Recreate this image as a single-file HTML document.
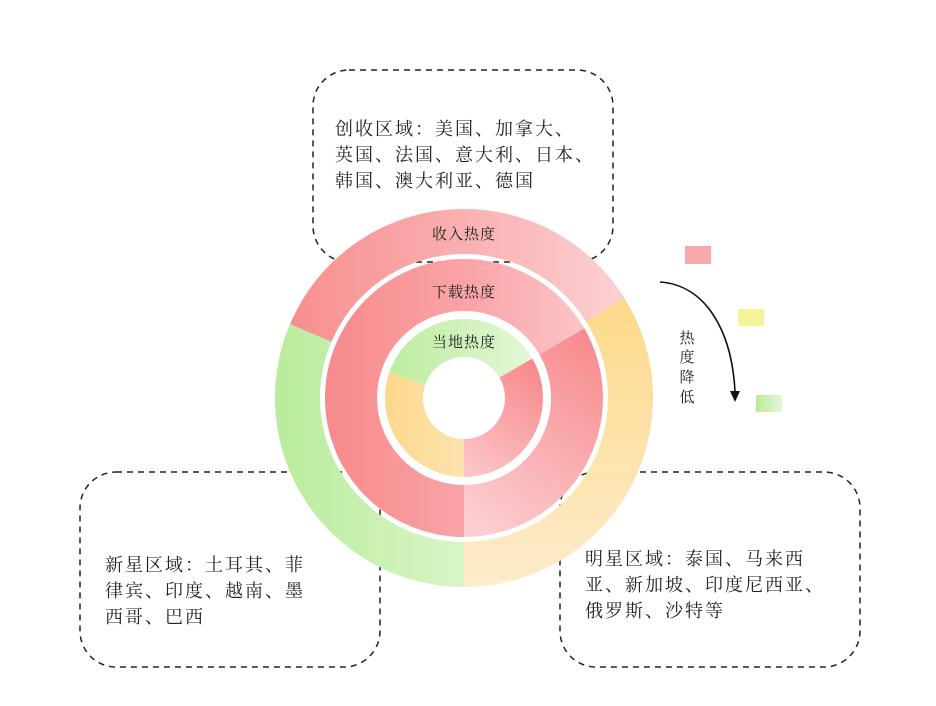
<!DOCTYPE html>
<html><head><meta charset="utf-8"><style>
html,body{margin:0;padding:0;background:#fff;}
svg{display:block;}
text{font-family:"Liberation Serif","Noto Serif CJK SC",serif;fill:#222;}
</style></head><body>
<svg width="936" height="706" viewBox="0 0 936 706" xmlns="http://www.w3.org/2000/svg">
<defs>
<linearGradient id="gTop" x1="275" y1="0" x2="640" y2="0" gradientUnits="userSpaceOnUse"><stop offset="0" stop-color="#f78b8b"/><stop offset="1" stop-color="#fcd3d6"/></linearGradient>
<linearGradient id="gYel" x1="0" y1="300" x2="0" y2="590" gradientUnits="userSpaceOnUse"><stop offset="0" stop-color="#fdd98a"/><stop offset="1" stop-color="#fdeccb"/></linearGradient>
<linearGradient id="gGrn" x1="275" y1="0" x2="464" y2="0" gradientUnits="userSpaceOnUse"><stop offset="0" stop-color="#b9ec9c"/><stop offset="1" stop-color="#d9f5c6"/></linearGradient>
<linearGradient id="gMidA" x1="325" y1="0" x2="600" y2="0" gradientUnits="userSpaceOnUse"><stop offset="0" stop-color="#f78a8c"/><stop offset="0.5" stop-color="#f9a3a6"/><stop offset="1" stop-color="#fcc9cc"/></linearGradient>
<linearGradient id="gMidB" x1="470" y1="530" x2="600" y2="340" gradientUnits="userSpaceOnUse"><stop offset="0" stop-color="#fcd0d3"/><stop offset="1" stop-color="#f78a8c"/></linearGradient>
<linearGradient id="gInG" x1="390" y1="0" x2="530" y2="0" gradientUnits="userSpaceOnUse"><stop offset="0" stop-color="#bdec9f"/><stop offset="1" stop-color="#e2f7d6"/></linearGradient>
<linearGradient id="gInY" x1="385" y1="0" x2="464" y2="0" gradientUnits="userSpaceOnUse"><stop offset="0" stop-color="#fdd88a"/><stop offset="1" stop-color="#fde3b0"/></linearGradient>
<linearGradient id="gInR" x1="470" y1="470" x2="540" y2="370" gradientUnits="userSpaceOnUse"><stop offset="0" stop-color="#fcc4c8"/><stop offset="1" stop-color="#f78a8c"/></linearGradient>
<linearGradient id="gLegG" x1="0" y1="0" x2="1" y2="0"><stop offset="0" stop-color="#b8eb9c"/><stop offset="1" stop-color="#e3f7d8"/></linearGradient>
</defs>
<g fill="none" stroke="#222" stroke-width="1.5" stroke-dasharray="6,5">
<rect x="313" y="70" width="300" height="192" rx="36"/>
<rect x="80" y="472" width="300" height="195" rx="36"/>
<rect x="560" y="472" width="300" height="195" rx="36"/>
</g>
<!-- outer ring: R 189, r 144, center 464,398 -->
<path d="M290.0,324.2 A189,189 0 0 1 624.3,297.8 L586.1,321.7 A144,144 0 0 0 331.4,341.9 Z" fill="url(#gTop)"/>
<path d="M624.3,297.8 A189,189 0 0 1 464,587 L464,542 A144,144 0 0 0 586.1,321.7 Z" fill="url(#gYel)"/>
<path d="M464,587 A189,189 0 0 1 290.0,324.2 L331.4,341.9 A144,144 0 0 0 464,542 Z" fill="url(#gGrn)"/>
<!-- middle ring: R 139, r 87 -->
<path d="M584.4,328.5 A139,139 0 1 0 464,537 L464,485 A87,87 0 1 1 539.4,354.5 Z" fill="url(#gMidA)"/>
<path d="M464,537 A139,139 0 0 0 584.4,328.5 L539.4,354.5 A87,87 0 0 1 464,485 Z" fill="url(#gMidB)"/>
<!-- inner ring: R 79, r 41 -->
<path d="M389.3,372.3 A79,79 0 0 1 532.4,358.5 L499.5,377.5 A41,41 0 0 0 425.2,384.7 Z" fill="url(#gInG)"/>
<path d="M464,477 A79,79 0 0 1 389.3,372.3 L425.2,384.7 A41,41 0 0 0 464,439 Z" fill="url(#gInY)"/>
<path d="M532.4,358.5 A79,79 0 0 1 464,477 L464,439 A41,41 0 0 0 499.5,377.5 Z" fill="url(#gInR)"/>
<g font-size="15" text-anchor="middle" letter-spacing="1">
<text x="464" y="239">收入热度</text>
<text x="464" y="297">下载热度</text>
<text x="464" y="347">当地热度</text>
</g>
<g font-size="18" letter-spacing="2">
<text x="335" y="135">创收区域：美国、加拿大、</text>
<text x="335" y="161">英国、法国、意大利、日本、</text>
<text x="335" y="187">韩国、澳大利亚、德国</text>
<text x="105" y="571">新星区域：土耳其、菲</text>
<text x="105" y="597">律宾、印度、越南、墨</text>
<text x="105" y="623">西哥、巴西</text>
<text x="585" y="565">明星区域：泰国、马来西</text>
<text x="585" y="591">亚、新加坡、印度尼西亚、</text>
<text x="585" y="617">俄罗斯、沙特等</text>
</g>
<rect x="685" y="246" width="26" height="18" fill="#f8a9ac"/>
<rect x="738" y="309" width="26" height="17" fill="#f5f39a"/>
<rect x="756" y="395" width="26" height="17" fill="url(#gLegG)"/>
<path d="M660,282 C705,285 732,330 735,392" fill="none" stroke="#111" stroke-width="1.6"/>
<path d="M730,391 L740,391 L735,402 Z" fill="#111"/>
<g font-size="15" text-anchor="middle">
<text x="687" y="343">热</text>
<text x="687" y="362">度</text>
<text x="687" y="382">降</text>
<text x="687" y="402">低</text>
</g>
</svg>
</body></html>
